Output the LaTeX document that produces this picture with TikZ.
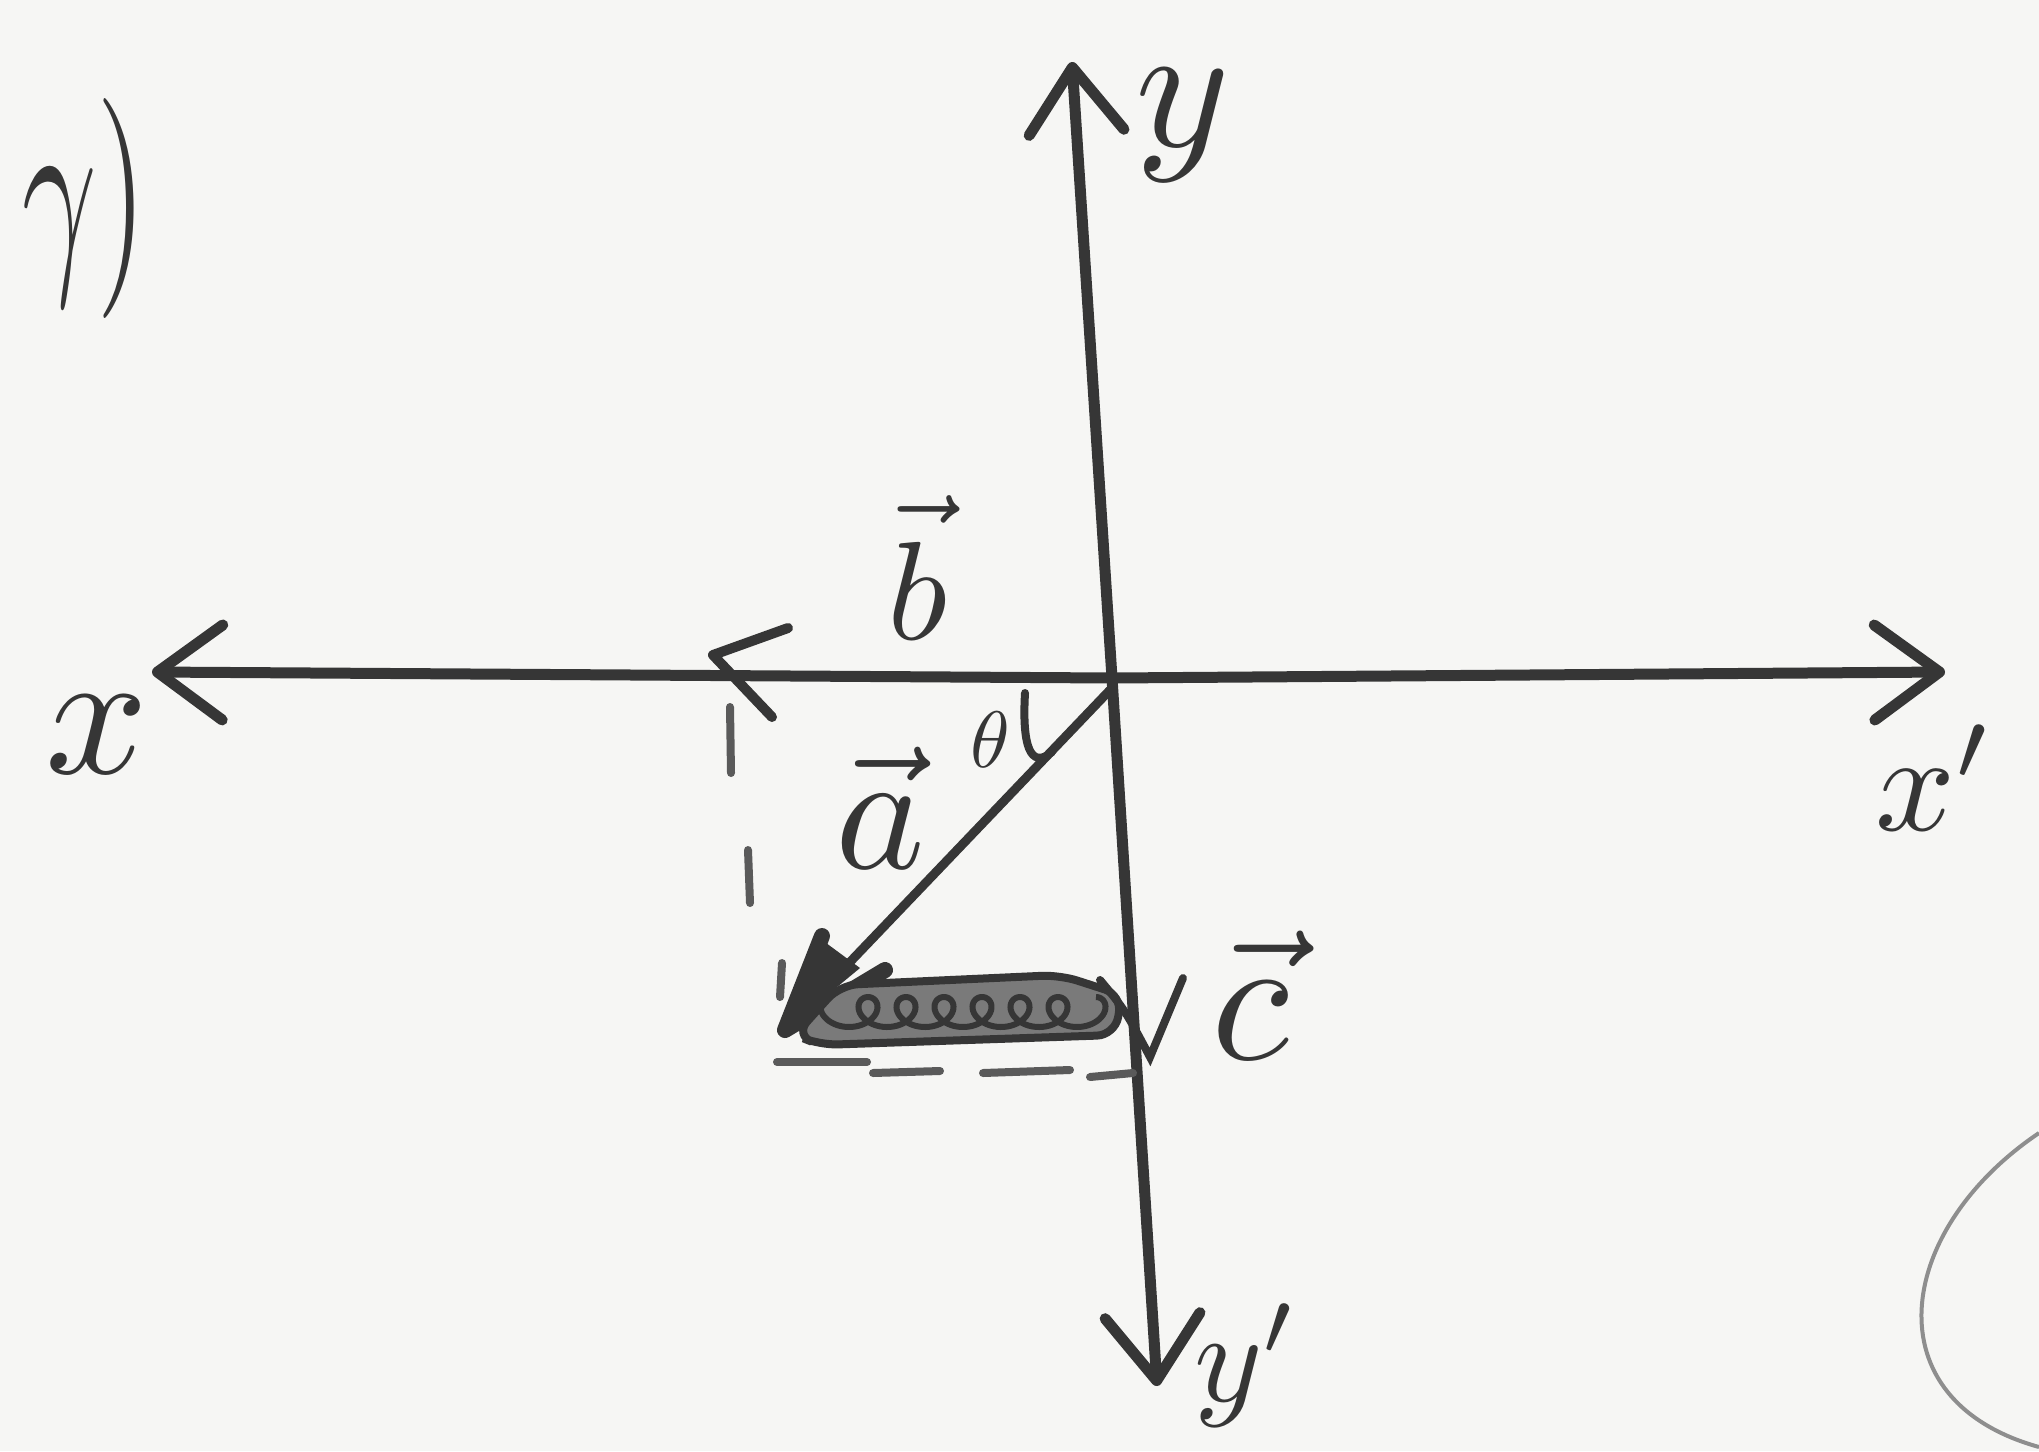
\documentclass[tikz,border=0pt]{standalone}
\usetikzlibrary{arrows.meta}
\definecolor{paper}{HTML}{F6F6F4}
\definecolor{ink}{HTML}{363636}
\definecolor{dashink}{HTML}{5A5A5A}
\definecolor{bandgray}{HTML}{7A7A7A}
\definecolor{pencil}{HTML}{8E8E8E}
\begin{document}
\begin{tikzpicture}[x=1pt,y=-1pt,
  axis/.style={draw=ink, line width=11pt, line cap=round,
    -{Straight Barb[length=65pt,width=95pt,round]}},
  vecline/.style={draw=ink, line width=9pt, line cap=round},
  headstroke/.style={draw=ink, line width=14pt, line cap=round, line join=round},
  dashseg/.style={draw=dashink, line width=8pt, line cap=round},
  lbl/.style={text=ink, inner sep=0pt}]
\useasboundingbox (0,0) rectangle (2039,1451);
\fill[paper] (0,0) rectangle (2039,1451);

% named points
\coordinate (O) at (1112,678);
\coordinate (xL) at (152,672);
\coordinate (xR) at (1945,672);
\coordinate (yT) at (1072,62);
\coordinate (yB) at (1157,1386);
\coordinate (aS) at (1110,690);
\coordinate (aT) at (785,1030);
\coordinate (bT) at (713,655);

% axes
\draw[axis] (O) -- (xL);
\draw[axis] (O) -- (xR);
\draw[axis] (O) -- (yT);
\draw[axis] (O) -- (yB);

% vector b (arrowhead on the axis)
\draw[headstroke, line width=10pt] (788,628) -- (bT) -- (772,717);

% vector a
\draw[vecline] (aS) -- (aT);
\draw[headstroke, line width=16pt] (822,936) -- (aT) -- (885,970);
\fill[ink] (aT) -- (822,940) -- (860,968) -- cycle;

% angle mark
\draw[vecline, line width=8pt] (1025,693) .. controls (1022,745) and (1030,770) .. (1052,752);

% vector c (thick scribbled band)
\filldraw[fill=bandgray, draw=ink, line width=8pt, rounded corners=18pt]
  (795,1035) -- (840,985) -- (1060,975) -- (1122,995) -- (1115,1035) -- (820,1045) -- cycle;
\draw[ink, line width=6pt] plot[domain=0:2520, samples=300, smooth]
  ({830 + \x/360*38 - 18*sin(\x)}, {1012 - 15*cos(\x)});
\draw[vecline, line width=8pt] (1100,980) .. controls (1125,1010) .. (1150,1057) -- (1183,978);

% dashed helper lines
\draw[dashseg] (730,707) -- (731,773);
\draw[dashseg] (748,850) -- (750,903);
\draw[dashseg] (782,963) -- (780,997);
\draw[dashseg] (777,1062) -- (867,1062);
\draw[dashseg] (873,1073) -- (940,1071);
\draw[dashseg] (983,1073) -- (1070,1070);
\draw[dashseg] (1090,1077) -- (1133,1073);

% pencil arc in the corner
\draw[pencil, line width=4pt] (2039,1133) .. controls (1895,1230) and (1870,1400) .. (2039,1447);

% labels
\node[lbl, xscale=13, yscale=22] (gam) at (85,208) {$\gamma)$};
\node[lbl, scale=18] (xlab) at (97,735) {$x$};
\node[lbl, scale=14] (xplab) at (1935,778) {$x'$};
\node[lbl, scale=18] (ylab) at (1183,125) {$y$};
\node[lbl, scale=13] (yplab) at (1247,1365) {$y'$};
\node[lbl, scale=14] (blab) at (918,585) {$\vec{\mathstrut b}$};
\node[lbl, scale=17] (alab) at (880,808) {$\vec{a}$};
\node[lbl, scale=8] (th) at (990,740) {$\theta$};
\node[lbl, scale=18] (clab) at (1250,995) {$\vec{c}$};
\end{tikzpicture}
\end{document}
